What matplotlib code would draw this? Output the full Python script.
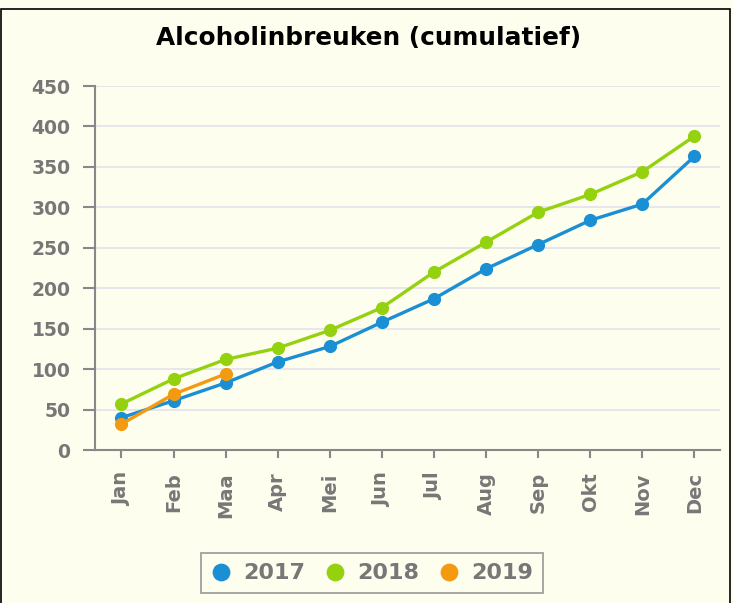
import matplotlib.pyplot as plt
from matplotlib.patches import Rectangle

# Data
months = ['Jan', 'Feb', 'Maa', 'Apr', 'Mei', 'Jun', 'Jul', 'Aug', 'Sep', 'Okt', 'Nov', 'Dec']
y2017 = [40, 61, 83, 109, 128, 158, 187, 224, 254, 284, 304, 363]
y2018 = [57, 88, 112, 126, 148, 176, 220, 257, 294, 316, 344, 388]
y2019 = [32, 69, 94]

bg = '#fefeef'
grey = '#777777'

fig = plt.figure(figsize=(7.34, 6.03), dpi=100, facecolor=bg)
ax = fig.add_axes([0.130, 0.2537, 0.8515, 0.6036], facecolor=bg)

# outer frame
fig.patches.append(Rectangle((1.5 / 734, -0.05), 728.5 / 734, 1.05 - 9 / 603,
                             transform=fig.transFigure, fill=False,
                             edgecolor='black', linewidth=1.2))

x = list(range(len(months)))
series = [(y2017, '#1b8fd4', '2017'), (y2018, '#94d10e', '2018'), (y2019, '#f39a10', '2019')]
for vals, col, lab in series:
    ax.plot(x[:len(vals)], vals, color=col, lw=2.4, marker='o', ms=9.5,
            markeredgewidth=0, label=lab, zorder=3)

ax.set_xlim(-0.5, 11.5)
ax.set_ylim(0, 450)
ax.set_yticks(range(0, 451, 50))
ax.set_xticks(x)
ax.set_xticklabels(months, rotation=90)

ax.grid(axis='y', color='#e4e4ec', lw=1.3, zorder=0)
for s in ['top', 'right']:
    ax.spines[s].set_visible(False)
for s in ['left', 'bottom']:
    ax.spines[s].set_color('#888888')
    ax.spines[s].set_linewidth(1.5)
ax.tick_params(axis='y', colors='#888888', width=1.5, length=8.5,
               labelcolor=grey, labelsize=13.5, pad=9.5)
ax.tick_params(axis='x', colors='#888888', width=1.5, length=6,
               labelcolor=grey, labelsize=14, pad=10)
for t in ax.get_xticklabels() + ax.get_yticklabels():
    t.set_fontweight('bold')

fig.text(0.502, 1 - 45 / 603, 'Alcoholinbreuken (cumulatief)', ha='center', va='baseline',
         fontsize=17.8, fontweight='bold', color='black')

leg = fig.legend(loc='center', bbox_to_anchor=(0.507, 0.049), ncol=3,
                 frameon=True, fancybox=False, handlelength=0.9, markerscale=1.35,
                 handletextpad=0.55, columnspacing=0.9, borderpad=0.45,
                 prop={'weight': 'bold', 'size': 16})
leg.get_frame().set_edgecolor('#888888')
leg.get_frame().set_linewidth(1.3)
leg.get_frame().set_facecolor(bg)
for h in leg.legend_handles:
    h.set_linestyle('none')
for t in leg.get_texts():
    t.set_color(grey)

fig.savefig('out.png', dpi=100, facecolor=bg)
